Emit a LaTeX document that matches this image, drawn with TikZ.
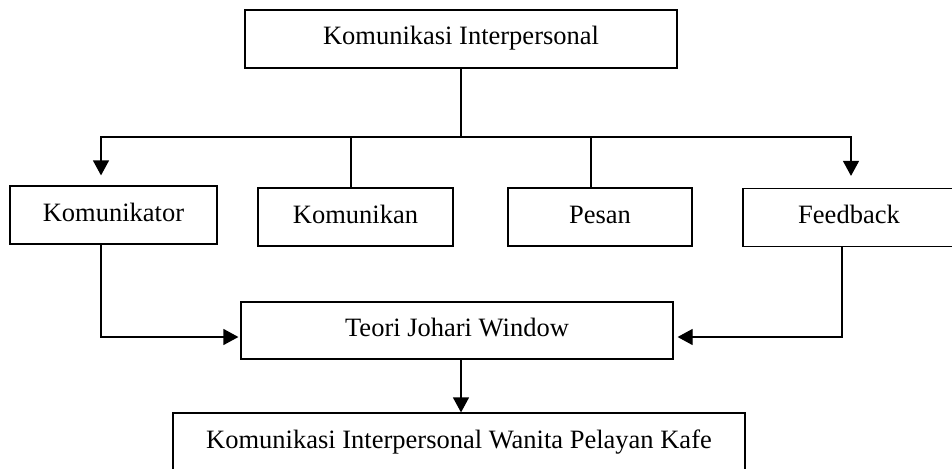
\documentclass[tikz,border=0pt]{standalone}
\usepackage{fontspec}
\setmainfont{Liberation Serif}
\usetikzlibrary{arrows.meta}
\begin{document}
\begin{tikzpicture}[x=1pt,y=-1pt,
  box/.style={draw, line width=1.2pt, minimum width=#1, minimum height=58pt, inner sep=0pt,
    text height=18pt, text depth=6pt,
    font=\fontsize{26.5}{30}\selectfont},
  conn/.style={line width=1.2pt},
  arr/.style={conn, -{Triangle[length=15pt,width=16pt]}}]
\useasboundingbox (0,0) rectangle (952,468);
\clip (0,0) rectangle (952,468);
\fill[white] (0,0) rectangle (952,468);

\node[box=432pt] (top) at (461,39) {Komunikasi Interpersonal};
\node[box=207pt] (komtor) at (113.5,215) {Komunikator};
\node[box=195pt] (komkan) at (355.5,217) {Komunikan};
\node[box=184pt] (pesan) at (600,217) {Pesan};
\node[box=212pt] (feed) at (849,217.5) {Feedback};
\node[box=432pt, minimum height=57pt] (teori) at (457,330.5) {Teori Johari Window};
\node[box=572pt] (akhir) at (459,442) {Komunikasi Interpersonal Wanita Pelayan Kafe};

\coordinate (bus) at (461,137);
\draw[conn] (top.south) -- (bus);
\draw[arr, shorten >=10pt] (bus) -| ([xshift=-12.5pt]komtor.north);
\draw[arr, shorten >=12pt] (bus) -| ([xshift=2pt]feed.north);
\draw[conn] (bus) -| ([xshift=-4.5pt]komkan.north);
\draw[conn] (bus) -| ([xshift=-9pt]pesan.north);
\draw[arr, shorten >=2pt] ([xshift=-12.5pt]komtor.south) |- ([yshift=-6.5pt]teori.west);
\draw[arr, shorten >=4pt] ([xshift=-7pt]feed.south) |- ([yshift=-6.5pt]teori.east);
\draw[arr] (teori.south -| bus) -- (akhir.north -| bus);
\end{tikzpicture}
\end{document}
